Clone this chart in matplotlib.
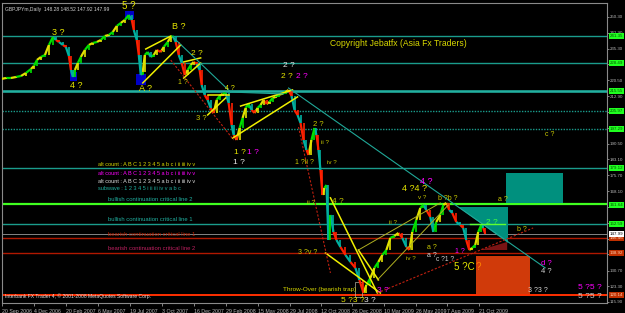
import matplotlib
matplotlib.use("Agg")
import matplotlib.pyplot as plt
from matplotlib.collections import LineCollection
from matplotlib.patches import Rectangle, Polygon
import matplotlib.transforms as mtransforms

plt.rcParams['font.family'] = ['Liberation Sans', 'DejaVu Sans']

# ---------------- data ----------------
bars = [0, 5, 10, 15, 20, 25, 30, 33, 36, 40, 44, 48, 52, 55, 58, 62, 65, 68, 70, 72,
        74, 77, 80, 84, 88, 92, 96, 100, 104, 108, 112, 116, 120, 124, 128, 131, 133, 136, 138, 140,
        142, 144, 147, 150, 153, 156, 160, 163, 167, 170, 172, 175, 178, 181, 184, 187, 190, 193, 196, 199,
        201, 204, 207, 210, 213, 216, 219, 222, 225, 228, 231, 233, 236, 239, 242, 245, 248, 251, 254, 257,
        260, 263, 266, 269, 272, 275, 278, 281, 285, 288, 291, 294, 297, 300, 303, 306, 308, 311, 314, 316,
        318, 320, 322, 324, 326, 328, 330, 333, 336, 340, 345, 350, 355, 359, 363, 366, 370, 374, 378, 382,
        386, 390, 394, 398, 402, 406, 409, 412, 416, 420, 423, 426, 430, 433, 436, 440, 443, 446, 449, 452,
        456, 460, 463, 466, 469, 472, 475, 478, 481, 483, 485]
closes = [221.06, 221.53, 221.53, 222.00, 222.48, 223.89, 225.78, 227.19, 230.02, 231.44, 232.38, 237.10, 240.87, 239.45, 238.51, 237.10, 236.15, 231.91, 225.30, 222.00,
          225.30, 228.61, 231.44, 234.74, 237.10, 238.04, 238.51, 239.45, 241.34, 241.81, 243.23, 246.06, 247.47, 248.89, 251.24, 248.89, 244.17, 239.45, 232.38, 222.95,
          224.36, 232.38, 233.79, 231.44, 232.38, 234.74, 233.79, 236.15, 238.51, 240.87, 241.34, 238.51, 232.38, 228.61, 222.95, 225.30, 227.66, 229.08, 228.13, 225.30,
          218.23, 213.52, 211.16, 207.38, 205.03, 211.16, 213.04, 213.99, 214.46, 209.74, 199.37, 194.65, 192.29, 197.95, 202.67, 207.38, 209.27, 206.44, 205.03, 207.38,
          208.80, 211.16, 209.27, 210.21, 212.10, 212.57, 213.52, 213.99, 214.93, 215.87, 213.04, 206.44, 204.08, 200.31, 192.29, 187.58, 185.22, 192.29, 197.95, 194.65,
          187.58, 178.15, 166.36, 169.66, 171.07, 145.13, 156.92, 148.91, 145.13, 141.83, 138.06, 134.76, 131.93, 126.27, 120.14, 123.91, 127.21, 131.93, 134.76, 138.06,
          140.42, 146.08, 147.02, 148.43, 146.08, 141.83, 140.42, 148.91, 154.57, 160.22, 161.64, 159.28, 155.98, 148.91, 153.62, 156.92, 161.64, 162.58, 159.28, 157.87,
          153.62, 152.21, 150.79, 145.13, 140.42, 141.36, 142.78, 148.91, 152.21, 150.79, 147.99]

xtick_bars = [1, 33, 65, 97, 129, 161, 193, 225, 257, 289, 321, 352, 384, 416, 447, 479]
xtick_labels = ["20 Sep 2006", "4 Dec 2006", "20 Feb 2007", "6 May 2007", "19 Jul 2007",
                "3 Oct 2007", "16 Dec 2007", "29 Feb 2008", "15 May 2008", "29 Jul 2008",
                "12 Oct 2008", "26 Dec 2008", "10 Mar 2009", "26 May 2009", "7 Aug 2009", "21 Oct 2009"]
ytick_vals = [250.30, 242.90, 235.30, 227.90, 220.50, 212.90, 205.50, 197.90, 190.50, 183.10,
              175.70, 168.10, 160.70, 153.30, 145.70, 138.30, 130.70, 123.30, 115.90]

# horizontal levels
teal_levels = [241.35, 228.49, 215.55, 179.12, 152.59]
teal_dotted_levels = [205.97, 197.29]
lime_level = 162.10
current_price = 147.99
red_levels = [146.10, 139.02]
bottom_level = 119.20

green_box_vals = [241.35, 228.49, 215.55, 205.97, 197.29, 179.12, 161.64, 152.59]
green_box_texts = ["241.35", "228.49", "215.55", "205.97", "197.29", "179.12", "161.64", "152.59"]
orange_box_vals = [146.10, 139.02, 119.20]
orange_box_texts = ["146.46", "138.92", "120.14"]

# trend lines: (bar0, price0, bar1, price1)
yellow_lines = [(142, 219.2, 180, 237.1), (145, 235.2, 170, 241.3), (183, 221.5, 200, 228.6),
                (183, 229.1, 200, 231.0), (207, 204.1, 225, 212.1), (207, 213.5, 228, 213.5),
                (232, 193.2, 297, 212.6), (240, 208.3, 292, 215.9), (330, 165.0, 377, 120.1),
                (325, 139.0, 380, 120.1), (358, 140.4, 378, 126.3)]
olive_lines = [(358, 140.4, 440, 162.6), (377, 126.3, 448, 161.6)]
teal_lines = [(288, 216.8, 545, 132.0), (172, 240.9, 230, 214.9), (230, 214.9, 283, 214.0)]
red_dashed_lines = [(170, 230.0, 233, 192.3), (298, 198.4, 330, 129.6), (377, 120.1, 533, 150.8)]

blue_squares = [(124, 249.4, 9, 3.7), (69, 220.1, 7, 4.3), (135, 218.2, 10, 5.2)]  # bar, low, width, height

# wave labels
lab_text = ["5 ?", "3 ?", "4 ?", "A ?", "B ?", "2 ?", "1 ?", "2 ?", "2 ?", "2 ?",
            "4 ?", "3 ?", "1 ?", "1 ?", "1 ?", "2 ?", "ii ?", "1 ?ii ?", "iv ?", "4 ?",
            "ii ?", "3 ?v ?", "5 ?3 ?", "3 ?", "3 ?", "4 ?4 ?", "4 ?", "v ?", "b ?b ?", "ii ?",
            "a ?", "a ?", "iv ?", "1 ?", "c ?1 ?", "5 ?C", "?", "2 ?", "b ?", "a ?",
            "c ?", "d ?", "4 ?", "3 ?3 ?", "5 ?5 ?", "5 ?5 ?"]
lab_x = [128, 57, 75, 145, 178, 196, 182, 288, 286, 301,
         229, 201, 239, 252, 238, 318, 325, 304, 331, 337,
         311, 307, 352, 369, 383, 414, 426, 422, 447, 393,
         432, 432, 411, 460, 445, 464, 478, 492, 522, 503,
         550, 546, 546, 538, 590, 590]
lab_p = [255.4, 243.2, 218.2, 216.8, 245.6, 233.3, 219.2, 227.2, 222.0, 222.0,
         216.8, 202.2, 186.2, 186.2, 181.9, 199.4, 190.9, 181.9, 181.9, 163.5,
         162.6, 139.0, 116.4, 116.4, 121.5, 169.2, 172.5, 165.0, 164.5, 153.6,
         141.4, 137.6, 136.6, 139.8, 135.8, 132.4, 132.4, 153.6, 150.3, 164.0,
         194.7, 134.2, 130.4, 121.1, 122.6, 118.4]
lab_color = ["#e6e600", "#e6e600", "#e6e600", "#e6e600", "#e6e600", "#e6e600", "#c8c800", "#e8e8e8", "#e6e600", "#ff00ff",
             "#e6e600", "#c8c800", "#e6e600", "#ff00ff", "#e8e8e8", "#c8c800", "#c8c800", "#c8c800", "#c8c800", "#c8c800",
             "#c8c800", "#c8c800", "#e6e600", "#e8e8e8", "#ff00ff", "#e6e600", "#ff00ff", "#c8c800", "#c8c800", "#c8c800",
             "#c8c800", "#d0d0d0", "#c8c800", "#ff00ff", "#d0d0d0", "#e6e600", "#ff8000", "#40ff40", "#c8c800", "#c8c800",
             "#c8c800", "#ff00ff", "#d0d0d0", "#d0d0d0", "#ff00ff", "#d0d0d0"]
lab_size = [7, 6.5, 6.5, 6.5, 6.5, 6, 5, 6, 6, 6,
            5, 5.5, 6, 6, 6, 5.5, 4.5, 5, 4.5, 6,
            4.5, 5, 6, 6, 6, 6.5, 6.5, 4.5, 5, 4.5,
            5, 5, 4.5, 5, 4.8, 7, 7, 6, 5, 5,
            5, 5.5, 5.5, 5, 6, 6]

legend_lines = ["alt count : A B C 1 2 3 4 5 a b c i ii iii iv v",
                "alt count : A B C 1 2 3 4 5 a b c i ii iii iv v",
                "alt count : A B C 1 2 3 4 5 a b c i ii iii iv v",
                "subwave : 1 2 3 4 5 i ii iii iv v a b c"]
legend_colors = ["#d8d800", "#ff00ff", "#e0e0e0", "#20b0a0"]
legend_prices = [180.5, 176.7, 172.9, 169.2]

crit_texts = ["bullish continuation critical line 2", "bullish continuation critical line 1",
              "bearish continuation critical line 1", "bearish continuation critical line 2"]
crit_colors = ["#20b0a0", "#20b0a0", "#c02000", "#c02060"]
crit_prices = [164.0, 154.6, 147.5, 140.9]

# ---------------- figure ----------------
fig = plt.figure(figsize=(6.25, 3.13), dpi=100, facecolor="black")
ax = fig.add_axes([2 / 625, 10 / 313, 605 / 625, 300 / 313])
ax.set_facecolor("black")
ax.set_xlim(2, 607)
ax.set_ylim(115.4, 256.9)
for s in ax.spines.values():
    s.set_color("#8a8a8a")
    s.set_linewidth(0.8)

# horizontal lines
for lv in teal_levels:
    ax.axhline(lv, color="#1a9c8c", lw=1.0, zorder=1)
ax.axhline(215.55, color="#22b0a0", lw=1.8, zorder=1)
for lv in teal_dotted_levels:
    ax.axhline(lv, color="#1a9c8c", lw=1.0, ls=(0, (1, 1)), zorder=1)
ax.axhline(lime_level, color="#40ff20", lw=1.6, zorder=1)
ax.axhline(current_price, color="#9a9a9a", lw=0.6, zorder=1)
for lv in red_levels:
    ax.axhline(lv, color="#b01800", lw=1.0, zorder=1)
ax.axhline(bottom_level, color="#ff3000", lw=1.4, zorder=1)

# zones
ax.add_patch(Rectangle((506, 162.6), 57, 14.1, facecolor="#00907e", edgecolor="none", zorder=1.5))
ax.add_patch(Polygon([(458, 160.7), (508, 160.7), (508, 143.5)], closed=True,
                     facecolor="#00907e", edgecolor="none", zorder=1.5))
ax.add_patch(Polygon([(480, 140.4), (507, 144.2), (507, 140.4)], closed=True,
                     facecolor="#7a1414", edgecolor="none", zorder=1.5))
ax.add_patch(Rectangle((476, 119.7), 54, 17.9, facecolor="#d03a0a", edgecolor="none", zorder=1.5))
ax.add_patch(Rectangle((355, 118.2), 7, 7.1, facecolor="none", edgecolor="#b0b0a0", lw=0.5, zorder=2))

# blue squares
for b, lo, w, h in blue_squares:
    ax.add_patch(Rectangle((b, lo), w, h, facecolor="#0000c8", edgecolor="none", zorder=2))

# price path
segs, cols = [], []
for i in range(1, len(bars)):
    segs.append([(bars[i - 1], closes[i - 1]), (bars[i], closes[i])])
    up = closes[i] >= closes[i - 1]
    cols.append(["#00e000", "#e0e000"][i % 2] if up else ["#ff2000", "#00b0a0"][i % 2])
ax.add_collection(LineCollection(segs, colors=cols, linewidths=1.6, zorder=3))
segs2 = [[(bars[i], closes[i]), (bars[i], closes[i - 1])] for i in range(1, len(bars))]
ax.add_collection(LineCollection(segs2, colors=cols, linewidths=1.2, zorder=3))

# trend lines
for x0, p0, x1, p1 in yellow_lines:
    ax.plot([x0, x1], [p0, p1], color="#f0f000", lw=1.1, zorder=4)
for x0, p0, x1, p1 in olive_lines:
    ax.plot([x0, x1], [p0, p1], color="#b0b020", lw=0.7, zorder=4)
for x0, p0, x1, p1 in teal_lines:
    ax.plot([x0, x1], [p0, p1], color="#20a898", lw=0.8, zorder=4)
for x0, p0, x1, p1 in red_dashed_lines:
    ax.plot([x0, x1], [p0, p1], color="#c02010", lw=0.8, ls=(0, (2, 1.5)), zorder=4)
ax.plot([470, 505], [152.7, 152.7], color="#60ff30", lw=1.0, zorder=4)

# labels
for t, x, p, c, s in zip(lab_text, lab_x, lab_p, lab_color, lab_size):
    ax.text(x, p, t, color=c, fontsize=s, ha="center", va="center", zorder=6)

for t, c, p in zip(legend_lines, legend_colors, legend_prices):
    ax.text(97, p, t, color=c, fontsize=4.0, ha="left", va="center", zorder=6)
for t, c, p in zip(crit_texts, crit_colors, crit_prices):
    ax.text(107, p, t, color=c, fontsize=4.2, ha="left", va="center", zorder=6)

ax.text(282, 122.0, "Throw-Over (bearish trap)", color="#d8d800", fontsize=4.6, ha="left", va="center", zorder=6)
ax.text(398, 237.6, "Copyright Jebatfx (Asia Fx Traders)", color="#d8d800", fontsize=6.2,
        ha="center", va="center", zorder=6)
ax.text(0.005, 0.985, "GBPJPYm,Daily  148.28 148.52 147.92 147.99", transform=ax.transAxes,
        color="#d0d0d0", fontsize=3.6, ha="left", va="top", zorder=6)
ax.text(0.005, 0.012, "Interbank FX Trader 4, \u00a9 2001-2008 MetaQuotes Software Corp.",
        transform=ax.transAxes, color="#e0e0e0", fontsize=3.6, ha="left", va="bottom", zorder=6)

# axes ticks
ax.yaxis.tick_right()
ax.set_yticks(ytick_vals)
ax.set_yticklabels(["%.2f" % v for v in ytick_vals])
ax.tick_params(axis="y", labelsize=3.2, colors="#b8b8b8", length=1.5, width=0.5, pad=0.6)
ax.set_xticks(xtick_bars)
ax.set_xticklabels(xtick_labels)
for lbl in ax.get_xticklabels():
    lbl.set_horizontalalignment("left")
ax.tick_params(axis="x", labelsize=3.8, colors="#b8b8b8", length=2.5, width=0.5, pad=1.5)

# price boxes on the right axis
trans = mtransforms.blended_transform_factory(ax.transAxes, ax.transData)
box_kw = dict(transform=trans, fontsize=3.2, ha="left", va="center", clip_on=False, zorder=7)
for v, t in zip(green_box_vals, green_box_texts):
    ax.text(1.004, v, t, color="#005000",
            bbox=dict(boxstyle="square,pad=0.2", facecolor="#20ff20", edgecolor="none"), **box_kw)
for v, t in zip(orange_box_vals, orange_box_texts):
    ax.text(1.004, v, t, color="#ffd0b0",
            bbox=dict(boxstyle="square,pad=0.2", facecolor="#c03000", edgecolor="none"), **box_kw)
ax.text(1.004, current_price, "147.99", color="#000000",
        bbox=dict(boxstyle="square,pad=0.2", facecolor="#ffffff", edgecolor="none"), **box_kw)

fig.savefig("out.png", dpi=100, facecolor="black")
